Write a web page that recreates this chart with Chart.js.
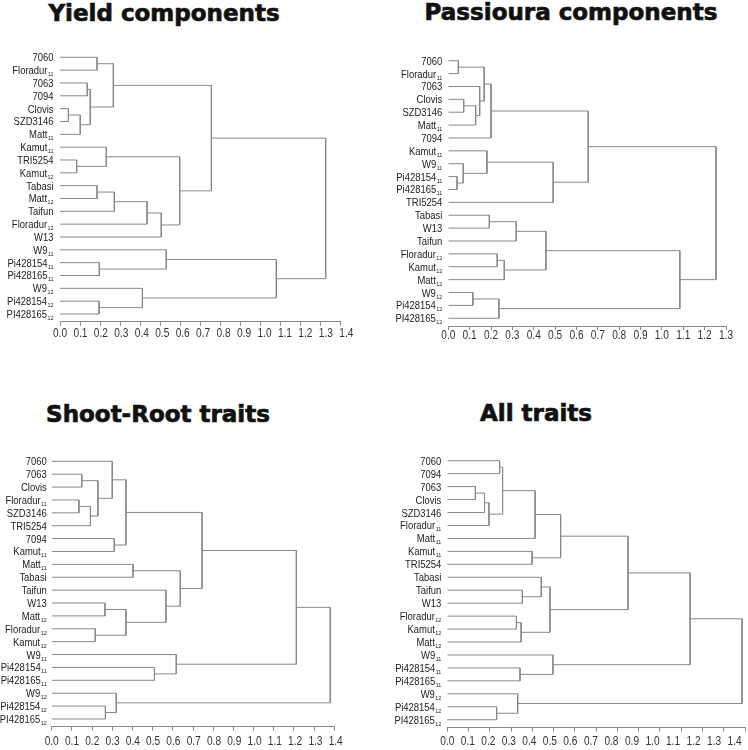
<!DOCTYPE html>
<html>
<head>
<meta charset="utf-8">
<script src="https://cdn.jsdelivr.net/npm/chart.js@4.4.1/dist/chart.umd.min.js"></script>
<style>
  body { margin: 0; background: #fff; width: 748px; height: 750px; position: relative; overflow: hidden; }
  .title { position: absolute; font: bold 23px 'DejaVu Sans', sans-serif; line-height: 23px; color: #111;
           -webkit-text-stroke: 0.7px #111; white-space: nowrap; transform: translateX(-50%); }
  canvas { position: absolute; }
</style>
</head>
<body>
<div class="title" style="left:164px;top:2px">Yield components</div>
<div class="title" style="left:571px;top:1px">Passioura components</div>
<div class="title" style="left:158px;top:403px">Shoot-Root traits</div>
<div class="title" style="left:536px;top:402px">All traits</div>

<canvas id="yieldChart" width="374" height="314" style="left:0;top:36px"></canvas>
<canvas id="passiouraChart" width="374" height="314" style="left:374px;top:36px"></canvas>
<canvas id="shootRootChart" width="374" height="314" style="left:0;top:436px"></canvas>
<canvas id="allChart" width="374" height="314" style="left:374px;top:436px"></canvas>

<script>
// leaf order (top to bottom); "_11" / "_12" is drawn as a subscript
const yieldLeaves = ['7060', 'Floradur_11', '7063', '7094', 'Clovis', 'SZD3146', 'Matt_11',
  'Kamut_11', 'TRI5254', 'Kamut_12', 'Tabasi', 'Matt_12', 'Taifun', 'Floradur_12', 'W13',
  'W9_11', 'Pi428154_11', 'Pi428165_11', 'W9_12', 'Pi428154_12', 'PI428165_12'];

const passiouraLeaves = ['7060', 'Floradur_11', '7063', 'Clovis', 'SZD3146', 'Matt_11', '7094',
  'Kamut_11', 'W9_11', 'Pi428154_11', 'Pi428165_11', 'TRI5254', 'Tabasi', 'W13', 'Taifun',
  'Floradur_12', 'Kamut_12', 'Matt_12', 'W9_12', 'Pi428154_12', 'PI428165_12'];

const shootRootLeaves = ['7060', '7063', 'Clovis', 'Floradur_11', 'SZD3146', 'TRI5254', '7094',
  'Kamut_11', 'Matt_11', 'Tabasi', 'Taifun', 'W13', 'Matt_12', 'Floradur_12', 'Kamut_12',
  'W9_11', 'Pi428154_11', 'Pi428165_11', 'W9_12', 'Pi428154_12', 'PI428165_12'];

const allLeaves = ['7060', '7094', '7063', 'Clovis', 'SZD3146', 'Floradur_11', 'Matt_11',
  'Kamut_11', 'TRI5254', 'Tabasi', 'Taifun', 'W13', 'Floradur_12', 'Kamut_12', 'Matt_12',
  'W9_11', 'Pi428154_11', 'Pi428165_11', 'W9_12', 'Pi428154_12', 'PI428165_12'];

// merges: [nodeA, nodeB, distance]; nodes < 21 are leaves, 21+k is the k-th merge
const yieldMerges = [
  [4, 5, 0.042], [8, 9, 0.083], [21, 6, 0.101], [2, 3, 0.136], [24, 23, 0.151],
  [0, 1, 0.185], [10, 11, 0.185], [19, 20, 0.195], [16, 17, 0.196], [7, 22, 0.231],
  [26, 25, 0.266], [27, 12, 0.271], [18, 28, 0.411], [32, 13, 0.434], [34, 14, 0.505],
  [15, 29, 0.530], [30, 35, 0.597], [31, 37, 0.755], [36, 33, 1.079], [38, 39, 1.325]];

const passiouraMerges = [
  [9, 10, 0.041], [0, 1, 0.047], [8, 21, 0.070], [3, 4, 0.072], [18, 19, 0.115],
  [24, 5, 0.128], [2, 26, 0.147], [22, 27, 0.168], [7, 23, 0.181], [12, 13, 0.192],
  [28, 6, 0.200], [15, 16, 0.229], [25, 20, 0.237], [32, 17, 0.262], [30, 14, 0.318],
  [35, 34, 0.457], [29, 11, 0.491], [31, 37, 0.655], [36, 33, 1.084], [38, 39, 1.253]];

const shootRootMerges = [
  [3, 4, 0.135], [1, 2, 0.149], [21, 5, 0.192], [13, 14, 0.216], [22, 23, 0.229],
  [11, 12, 0.264], [19, 20, 0.266], [0, 25, 0.300], [6, 7, 0.310], [18, 27, 0.320],
  [28, 29, 0.368], [26, 24, 0.368], [8, 9, 0.403], [16, 17, 0.509], [10, 32, 0.566],
  [15, 34, 0.617], [33, 35, 0.637], [31, 37, 0.745], [38, 36, 1.212], [39, 30, 1.380]];

const allMerges = [
  [2, 3, 0.132], [21, 4, 0.175], [22, 5, 0.196], [19, 20, 0.232], [0, 1, 0.246],
  [25, 23, 0.260], [12, 13, 0.325], [18, 24, 0.331], [16, 17, 0.342], [27, 14, 0.347],
  [10, 11, 0.353], [7, 8, 0.399], [26, 6, 0.413], [9, 31, 0.442], [34, 30, 0.483],
  [15, 29, 0.497], [33, 32, 0.533], [37, 35, 0.850], [38, 36, 1.142], [39, 28, 1.386]];

const ticks14 = ['0.0', '0.1', '0.2', '0.3', '0.4', '0.5', '0.6', '0.7', '0.8', '0.9', '1.0', '1.1', '1.2', '1.3', '1.4'];
const ticks13 = ticks14.slice(0, 14);

const LINE = '#888';
const Y_MIN = -0.6, Y_MAX = 20.6;

// turn the merge list into U-shaped segments (gaps between them)
function dendroPoints(nLeaves, merges) {
  const pos = [];
  for (let i = 0; i < nLeaves; i++) pos.push({ x: 0, y: i });
  const pts = [];
  merges.forEach(([a, b, h]) => {
    const pa = pos[a], pb = pos[b];
    pts.push({ x: pa.x, y: pa.y }, { x: h, y: pa.y }, { x: h, y: pb.y }, { x: pb.x, y: pb.y },
             { x: h, y: null });
    pos.push({ x: h, y: (pa.y + pb.y) / 2 });
  });
  return pts;
}

// narrow-looking text: regular font squeezed horizontally
function squeezed(ctx, text, x, y, sx) {
  ctx.save();
  ctx.translate(x, y);
  ctx.scale(sx, 1);
  ctx.fillText(text, 0, 0);
  ctx.restore();
}

const dendroText = {
  id: 'dendroText',
  afterDraw(chart, args, opts) {
    const { ctx, chartArea } = chart;
    const { x: xs, y: ys } = chart.scales;
    ctx.save();
    ctx.fillStyle = '#222';

    // leaf names with subscripts
    ctx.textBaseline = 'alphabetic';
    ctx.textAlign = 'right';
    const right = chartArea.left - opts.gap;
    opts.leaves.forEach((name, i) => {
      const [base, sub] = name.split('_');
      const py = Math.round(ys.getPixelForValue(i)) + 4;
      ctx.save();
      ctx.translate(right, py);
      ctx.scale(0.9, 1);
      let x = 0;
      if (sub) {
        ctx.font = '6px "Liberation Sans"';
        ctx.fillText(sub, 0, 2);
        x = -ctx.measureText(sub).width - 0.5;
      }
      ctx.font = '10.5px "Liberation Sans"';
      ctx.fillText(base, x, 0);
      ctx.restore();
    });

    // distance tick labels (the printed labels sit slightly off the tick marks)
    ctx.fillStyle = '#333';
    ctx.textAlign = 'center';
    ctx.textBaseline = 'middle';
    ctx.font = '13px "Liberation Sans"';
    const x0 = xs.getPixelForValue(0);
    xs.ticks.forEach((t, i) => {
      const px = x0 + (xs.getPixelForValue(t.value) - x0) * opts.labelStretch;
      squeezed(ctx, opts.tickLabels[i], px, chartArea.bottom + opts.labelDy, 0.78);
    });
    ctx.restore();
  }
};

function makePanel(id, plot, leaves, merges, tickLabels) {
  const canvas = document.getElementById(id);
  const rect = { left: parseFloat(canvas.style.left), top: parseFloat(canvas.style.top),
                 w: canvas.width, h: canvas.height };
  const k = (0 - Y_MIN) / (Y_MAX - Y_MIN);
  const top = (plot.leaf0 - k * plot.axis) / (1 - k);
  const axisH = rect.top + rect.h - plot.axis;
  const tickVals = tickLabels.map(Number);

  return new Chart(canvas.getContext('2d'), {
    type: 'scatter',
    data: {
      datasets: [{
        data: dendroPoints(leaves.length, merges),
        showLine: true,
        spanGaps: false,
        borderColor: LINE,
        borderWidth: 1,
        pointRadius: 0,
        pointHoverRadius: 0
      }]
    },
    options: {
      responsive: false,
      animation: false,
      events: [],
      layout: {
        padding: {
          left: plot.left - rect.left,
          right: rect.left + rect.w - plot.right,
          top: top - rect.top,
          bottom: 0
        }
      },
      plugins: {
        legend: { display: false },
        tooltip: { enabled: false },
        dendroText: { leaves, tickLabels, gap: plot.gap, labelDy: plot.labelDy, labelStretch: plot.labelStretch }
      },
      scales: {
        x: {
          type: 'linear',
          min: 0,
          max: tickVals[tickVals.length - 1],
          afterBuildTicks(scale) { scale.ticks = tickVals.map(v => ({ value: v })); },
          afterFit(scale) { scale.height = axisH; scale.paddingLeft = 0; scale.paddingRight = 0; },
          ticks: { display: false, autoSkip: false, maxRotation: 0 },
          grid: { drawOnChartArea: false, drawTicks: true, tickLength: 4, color: LINE },
          border: { display: true, color: LINE, width: 1 }
        },
        y: { type: 'linear', min: Y_MIN, max: Y_MAX, reverse: true, display: false }
      }
    },
    plugins: [dendroText]
  });
}

makePanel('yieldChart',
  { left: 60, right: 340.7, leaf0: 57.3, axis: 321.7, gap: 6.5, labelDy: 11.5, labelStretch: 1.02 },
  yieldLeaves, yieldMerges, ticks14);
makePanel('passiouraChart',
  { left: 448.3, right: 726, leaf0: 60.7, axis: 326, gap: 6, labelDy: 9.5, labelStretch: 1 },
  passiouraLeaves, passiouraMerges, ticks13);
makePanel('shootRootChart',
  { left: 51.7, right: 334.3, leaf0: 461.3, axis: 726.7, gap: 5, labelDy: 15, labelStretch: 1.005 },
  shootRootLeaves, shootRootMerges, ticks14);
makePanel('allChart',
  { left: 447.3, right: 745, leaf0: 460.7, axis: 727.5, gap: 6, labelDy: 13.5, labelStretch: 0.965 },
  allLeaves, allMerges, ticks14);
</script>
</body>
</html>
